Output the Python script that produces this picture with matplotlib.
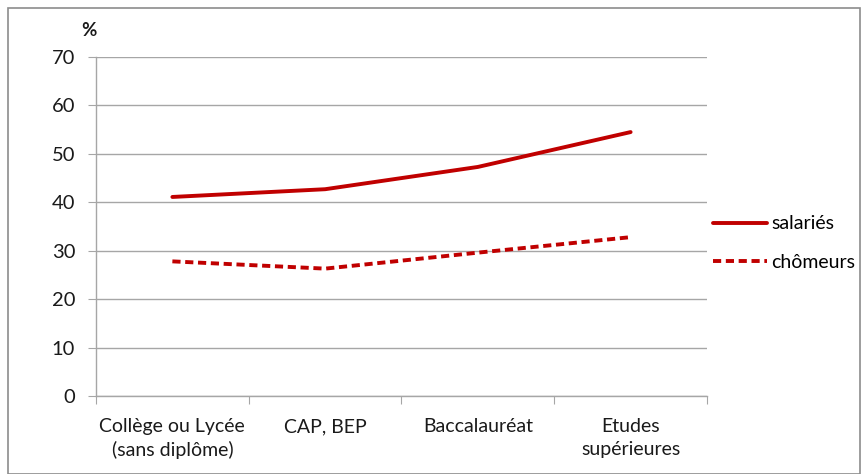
import matplotlib.pyplot as plt
from matplotlib.patches import Rectangle

categories = ['Collège ou Lycée\n(sans diplôme)', 'CAP, BEP', 'Baccalauréat', 'Etudes\nsupérieures']
salaries = [41.1, 42.7, 47.3, 54.5]
chomeurs = [27.8, 26.3, 29.6, 32.8]
yticks = [0, 10, 20, 30, 40, 50, 60, 70]

plt.rcParams['font.family'] = ['Lato', 'DejaVu Sans']
red = '#C00000'
grey = '#a6a6a6'
txt = '#1a1a1a'

fig = plt.figure(figsize=(8.68, 4.74), dpi=100)
ax = fig.add_axes([0.1106, 0.1646, 0.7039, 0.7151])

# outer frame like the Excel chart area
fig.patches.append(Rectangle((8 / 868, 0.0), 852 / 868, 1 - 8 / 474, transform=fig.transFigure,
                             fill=False, edgecolor='#8c8c8c', linewidth=1.2))

x = list(range(len(categories)))
ax.plot(x, salaries, color=red, linewidth=2.8, label='salariés', solid_capstyle='round')
ax.plot(x, chomeurs, color=red, linewidth=2.8, linestyle=(0, (2.1, 1.2)), label='chômeurs')

ax.set_xlim(-0.5, 3.5)
ax.set_ylim(0, 70)
ax.set_yticks(yticks)
ax.yaxis.grid(True, color=grey, linewidth=1)
ax.set_axisbelow(True)

ax.set_xticks([-0.5, 0.5, 1.5, 2.5, 3.5])
ax.set_xticklabels([])
ax.set_xticks(x, minor=True)
ax.set_xticklabels(categories, minor=True, fontsize=14, color=txt, linespacing=1.4)
ax.tick_params(axis='x', which='major', length=6, color=grey, direction='out')
ax.tick_params(axis='x', which='minor', length=0, pad=16)
ax.tick_params(axis='y', length=6, color=grey, labelsize=14.5, labelcolor=txt, pad=9)

for s in ['top', 'right']:
    ax.spines[s].set_visible(False)
for s in ['left', 'bottom']:
    ax.spines[s].set_color(grey)
    ax.spines[s].set_linewidth(1)

fig.text(81 / 868, 1 - 30 / 474, '%', fontsize=13.5, fontweight='bold', va='center', color=txt)

ax.legend(loc='center left', bbox_to_anchor=(713 / 868, 1 - 243 / 474), bbox_transform=fig.transFigure,
          frameon=False, fontsize=14, handlelength=2.8, handletextpad=0.2, labelspacing=1.1,
          borderpad=0, borderaxespad=0)

fig.savefig('out.png', dpi=100)
